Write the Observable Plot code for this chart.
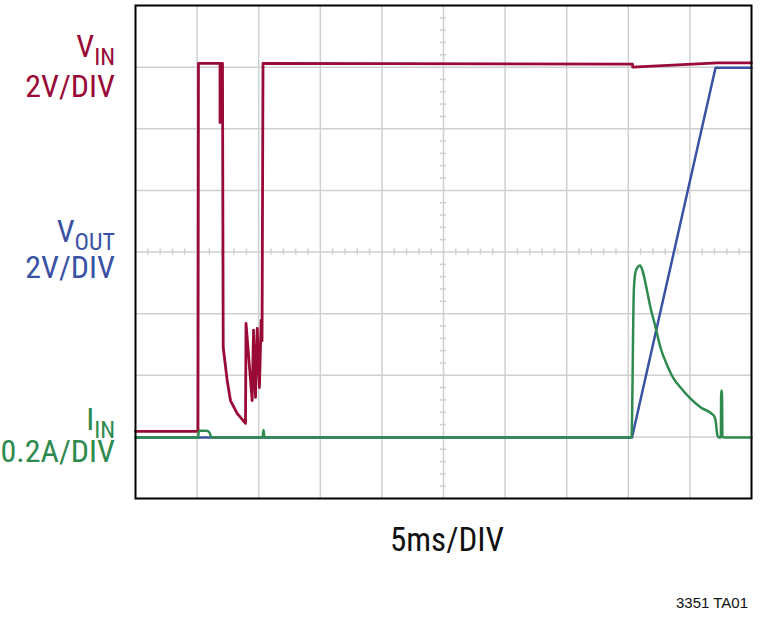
<!DOCTYPE html>
<html><head><meta charset="utf-8">
<script src="https://cdn.jsdelivr.net/npm/d3@7"></script>
<script src="https://cdn.jsdelivr.net/npm/@observablehq/plot@0.6"></script>
<style>body{margin:0;background:#fff}</style>
</head><body><div id="chart"></div>
<script>
// time in ms (5 ms/DIV), amplitude in screen divisions (0 = bottom graticule line)
const vinTime = [0, 5.07, 5.11, 6.86, 6.86, 6.94, 7.06, 7.12, 7.44, 7.71, 8.25, 8.93, 8.97, 9.47, 9.58, 9.74, 9.88, 10.06, 10.20, 10.27, 10.35, 40.34, 40.36, 47.24, 50];
const vinDiv  = [1.09, 1.09, 7.06, 7.06, 6.10, 7.06, 7.06, 2.45, 1.92, 1.59, 1.38, 1.22, 2.84, 1.59, 2.73, 1.64, 2.76, 1.80, 2.89, 2.56, 7.06, 7.05, 7.00, 7.07, 7.07];

const voutTime = [0, 40.30, 47.08, 50];
const voutDiv  = [0.99, 0.99, 6.99, 6.99];

const iinTime = [0, 5.07, 5.15, 5.76, 6.00, 6.17, 10.31, 10.39, 10.47, 40.26, 40.45, 40.58, 40.75, 40.95, 41.15, 41.40, 41.80, 42.21, 42.61, 43.16, 43.67, 44.24, 45.05, 45.86, 46.92, 47.08, 47.24, 47.40, 47.51, 47.54, 47.60, 47.64, 47.81, 50];
const iinDiv  = [0.99, 0.99, 1.10, 1.10, 1.07, 0.99, 0.99, 1.11, 0.99, 0.99, 3.38, 3.67, 3.75, 3.78, 3.70, 3.49, 3.10, 2.78, 2.45, 2.16, 1.95, 1.80, 1.62, 1.48, 1.35, 1.27, 1.02, 0.99, 0.99, 1.75, 1.75, 1.00, 0.99, 0.99];

const xGrid = [5, 10, 15, 20, 25, 30, 35, 40, 45];
const yGrid = [1, 2, 3, 4, 5, 6, 7];
const xCenter = 25, yCenter = 4;

const channelLabels = [
  {main: "V", sub: "IN", scale: "2V/DIV", color: "#990a36"},
  {main: "V", sub: "OUT", scale: "2V/DIV", color: "#3a52a4"},
  {main: "I", sub: "IN", scale: "0.2A/DIV", color: "#2e8a4e"}
];
const timeLabel = "5ms/DIV";
const figureId = "3351 TA01";

const zip = (t, v) => t.map((x, i) => ({t: x, v: v[i]}));
const vin = zip(vinTime, vinDiv), vout = zip(voutTime, voutDiv), iin = zip(iinTime, iinDiv);

const minorX = d3.range(0, 50.001, 1).filter(d => d % 5 !== 0);
const minorY = d3.range(0, 8.001, 0.2).filter(d => Math.abs(d - Math.round(d)) > 1e-6);

const gridColor = "#d0d0d0";
const plot = Plot.plot({
  width: 760, height: 625,
  marginLeft: 135, marginRight: 9, marginTop: 5, marginBottom: 127,
  x: {domain: [0, 50], axis: null},
  y: {domain: [0, 8], axis: null},
  marks: [
    Plot.ruleX(xGrid, {stroke: gridColor, strokeWidth: 1.5}),
    Plot.ruleY(yGrid, {stroke: gridColor, strokeWidth: 1.5}),
    Plot.ruleX(minorX, {x: d => d, y1: yCenter - 0.05, y2: yCenter + 0.05, stroke: gridColor, strokeWidth: 1.5}),
    Plot.ruleY(minorY, {y: d => d, x1: xCenter - 0.25, x2: xCenter + 0.25, stroke: gridColor, strokeWidth: 1.5}),
    Plot.line(vout, {x: "t", y: "v", stroke: channelLabels[1].color, strokeWidth: 2.5}),
    Plot.line(vin, {x: "t", y: "v", stroke: channelLabels[0].color, strokeWidth: 2.8}),
    Plot.line(iin, {x: "t", y: "v", stroke: channelLabels[2].color, strokeWidth: 2.5, curve: "monotone-x"}),
    Plot.frame({stroke: "black", strokeWidth: 2})
  ]
});
document.getElementById("chart").appendChild(plot);

const svg = d3.select(plot);
const font = "'Liberation Sans Narrow', 'Roboto Condensed', 'Liberation Sans', sans-serif";
const labelPos = [{y1: 57, y2: 97}, {y1: 242, y2: 278}, {y1: 430, y2: 462}];
channelLabels.forEach((c, i) => {
  const t = svg.append("text").attr("x", 115).attr("y", labelPos[i].y1)
    .attr("text-anchor", "end").attr("fill", c.color)
    .style("font-family", font).style("font-size", "32px");
  t.append("tspan").text(c.main);
  t.append("tspan").attr("dy", 8).style("font-size", "24px").text(c.sub);
  svg.append("text").attr("x", 115).attr("y", labelPos[i].y2)
    .attr("text-anchor", "end").attr("fill", c.color)
    .style("font-family", font).style("font-size", "32px").text(c.scale);
});
svg.append("text").attr("x", 447).attr("y", 551).attr("text-anchor", "middle")
  .attr("fill", "#111").style("font-family", font).style("font-size", "33px").text(timeLabel);
svg.append("text").attr("x", 748).attr("y", 608).attr("text-anchor", "end")
  .attr("fill", "#111").style("font-family", "'Liberation Sans', Arial, sans-serif").style("font-size", "15px").text(figureId);
</script>
</body></html>
